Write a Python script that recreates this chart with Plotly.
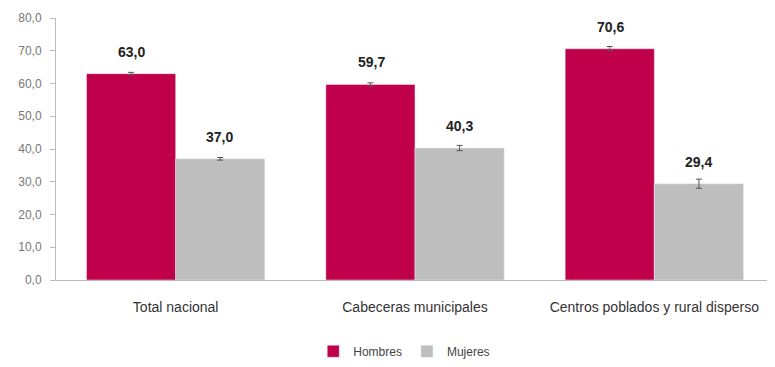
import plotly.graph_objects as go

# Data
categorias = ['Total nacional', 'Cabeceras municipales', 'Centros poblados y rural disperso']
hombres = [63.0, 59.7, 70.6]
mujeres = [37.0, 40.3, 29.4]
err_hombres = [0.4, 0.5, 0.7]
err_mujeres = [0.4, 0.8, 1.4]
y_ticks = [0, 10, 20, 30, 40, 50, 60, 70, 80]

FONT = 'Liberation Sans, Arial, sans-serif'
C_H = '#C0004B'
C_M = '#BEBEBE'

fig = go.Figure()
fig.add_trace(go.Bar(
    x=categorias, y=hombres, name='Hombres',
    marker=dict(color=C_H),
    error_y=dict(type='data', array=err_hombres, color='#555555', thickness=1, width=3),
))
fig.add_trace(go.Bar(
    x=categorias, y=mujeres, name='Mujeres',
    marker=dict(color=C_M),
    error_y=dict(type='data', array=err_mujeres, color='#555555', thickness=1, width=3),
))

# value labels above bars
for cat, h, m in zip(categorias, hombres, mujeres):
    for val, shift in ((h, -44), (m, 44)):
        fig.add_annotation(
            x=cat, y=val, xshift=shift, yshift=22,
            text='<b>' + f'{val:.1f}'.replace('.', ',') + '</b>',
            showarrow=False, yanchor='middle',
            font=dict(family=FONT, size=14, color='#222222'),
        )

# page body adds an 8px offset, so the figure is 8px smaller and margins shifted
fig.update_layout(
    width=767, height=359,
    margin=dict(l=48, r=1, t=10, b=85),
    paper_bgcolor='white', plot_bgcolor='white',
    barmode='group', bargap=0.255, bargroupgap=0,
    separators=',.',
    font=dict(family=FONT, color='#444444'),
    legend=dict(
        orientation='h', x=0.485, xanchor='center', y=-0.272, yanchor='middle',
        font=dict(family=FONT, size=12, color='#444444'),
        itemwidth=30, tracegroupgap=0,
    ),
    showlegend=True,
)
fig.update_yaxes(
    range=[0, 80], tickvals=y_ticks, tickformat='.1f',
    showgrid=False, zeroline=False,
    showline=True, linecolor='#BBBBBB', linewidth=1,
    ticks='outside', ticklen=5, tickcolor='#BBBBBB',
    ticklabelstandoff=6,
    tickfont=dict(family=FONT, size=12, color='#777777'),
)
fig.update_xaxes(
    showline=True, linecolor='#BBBBBB', linewidth=1,
    ticks='', showgrid=False,
    ticklabelstandoff=14,
    tickfont=dict(family=FONT, size=14, color='#333333'),
)

fig.write_html("out.html")
